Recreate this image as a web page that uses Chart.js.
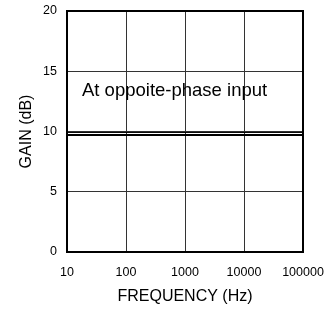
<!DOCTYPE html>
<html>
<head>
<meta charset="utf-8">
<script src="https://cdn.jsdelivr.net/npm/chart.js@4/dist/chart.umd.min.js"></script>
<style>
  html, body { margin: 0; padding: 0; background: #fff; }
  #wrap { width: 335px; height: 312px; }
</style>
</head>
<body>
<div id="wrap"><canvas id="gainChart"></canvas></div>
<script>
// data
const freqs = [10, 100, 1000, 10000, 100000];
const gainUpper = [9.92, 9.92, 9.92, 9.92, 9.92];
const gainLower = [9.7, 9.7, 9.7, 9.7, 9.7];
const xTicks = [10, 100, 1000, 10000, 100000];
const yTicks = [0, 5, 10, 15, 20];
const note = 'At oppoite-phase input';

const FONT = "'Liberation Sans', Arial, sans-serif";

// thick frame round the plot + the note text
const framePlugin = {
    id: 'frame',
    afterDraw(chart) {
        const { ctx, chartArea: a, scales } = chart;
        ctx.save();
        ctx.strokeStyle = '#000';
        ctx.lineWidth = 2;
        ctx.strokeRect(a.left, a.top, a.right - a.left, a.bottom - a.top);
        ctx.fillStyle = '#000';
        ctx.font = '18.5px ' + FONT;
        ctx.textBaseline = 'alphabetic';
        ctx.fillText(note, a.left + 15, scales.y.getPixelForValue(12.95));
        ctx.restore();
    }
};

new Chart(document.getElementById('gainChart'), {
    type: 'line',
    data: {
        labels: freqs,
        datasets: [
            {
                data: freqs.map((f, i) => ({ x: f, y: gainUpper[i] })),
                borderColor: '#000',
                borderWidth: 1,
                pointRadius: 0
            },
            {
                data: freqs.map((f, i) => ({ x: f, y: gainLower[i] })),
                borderColor: '#000',
                borderWidth: 2,
                pointRadius: 0
            }
        ]
    },
    options: {
        responsive: true,
        maintainAspectRatio: false,
        animation: false,
        layout: { padding: { top: 11, right: 32, bottom: 0, left: 0 } },
        plugins: {
            legend: { display: false },
            tooltip: { enabled: false }
        },
        scales: {
            x: {
                type: 'logarithmic',
                min: 10,
                max: 100000,
                afterBuildTicks: (s) => { s.ticks = xTicks.map(v => ({ value: v })); },
                afterFit: (s) => { s.height = 60; },
                ticks: {
                    color: '#000',
                    font: { family: FONT, size: 12.5 },
                    padding: 0,
                    maxRotation: 0,
                    autoSkip: false,
                    callback: (v) => String(v)
                },
                // invisible tick marks give the label gap without extra side padding
                grid: { color: '#333', lineWidth: 1, drawTicks: true, tickLength: 13, tickColor: 'rgba(0,0,0,0)' },
                border: { display: false },
                title: {
                    display: true,
                    text: 'FREQUENCY (Hz)',
                    color: '#000',
                    font: { family: FONT, size: 16 },
                    padding: { top: 0, bottom: 5.5 }
                }
            },
            y: {
                min: 0,
                max: 20,
                afterBuildTicks: (s) => { s.ticks = yTicks.map(v => ({ value: v })); },
                afterFit: (s) => { s.width = 67; },
                ticks: {
                    color: '#000',
                    font: { family: FONT, size: 12.5 },
                    padding: 0
                },
                grid: { color: '#333', lineWidth: 1, drawTicks: true, tickLength: 10, tickColor: 'rgba(0,0,0,0)' },
                border: { display: false },
                title: {
                    display: true,
                    text: 'GAIN (dB)',
                    color: '#000',
                    font: { family: FONT, size: 16 },
                    padding: { top: 16.5, bottom: 0 }
                }
            }
        }
    },
    plugins: [framePlugin]
});
</script>
</body>
</html>
